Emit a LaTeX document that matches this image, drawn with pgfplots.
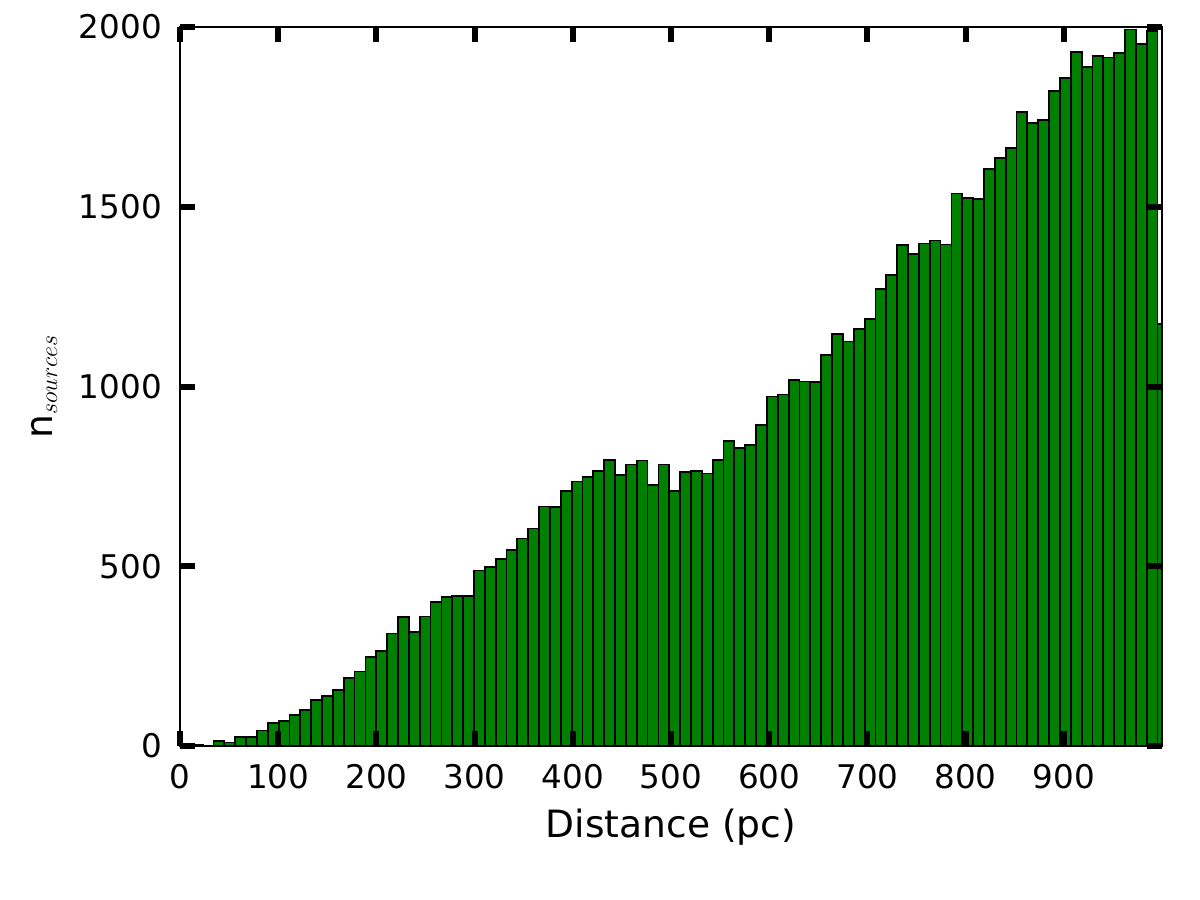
\documentclass[border=0pt]{standalone}
\usepackage{fontspec}
\setmainfont{DejaVu Sans}
\usepackage{pgfplots}
\pgfplotsset{compat=1.18}
\usepackage{pgfplotstable}
\definecolor{mplgreen}{HTML}{008000}
\newcommand\fs{\fontsize{16.3}{19.5}\selectfont}
\newcommand\fl{\fontsize{18.8}{22}\selectfont}
\pgfplotstableread{
i n
0 5
1 3
2 1
3 14
4 10
5 26
6 24
7 43
8 63
9 70
10 86
11 101
12 129
13 140
14 156
15 190
16 207
17 248
18 265
19 313
20 359
21 317
22 360
23 401
24 415
25 417
26 417
27 488
28 499
29 520
30 545
31 577
32 605
33 666
34 664
35 710
36 736
37 749
38 764
39 796
40 753
41 783
42 794
43 725
44 783
45 710
46 762
47 764
48 758
49 796
50 849
51 828
52 837
53 894
54 972
55 978
56 1017
57 1014
58 1012
59 1088
60 1147
61 1125
62 1161
63 1187
64 1271
65 1310
66 1394
67 1369
68 1398
69 1406
70 1395
71 1537
72 1525
73 1522
74 1606
75 1636
76 1663
77 1763
78 1732
79 1741
80 1823
81 1858
82 1930
83 1888
84 1919
85 1915
86 1928
87 1993
88 1953
89 1989
90 1174
91 0
}\histdata
\begin{document}
\begin{tikzpicture}
\useasboundingbox (-90pt,-77pt) rectangle (510pt,373pt);
\begin{axis}[
  at={(0,0)}, anchor=south west,
  scale only axis, width=491pt, height=359.5pt,
  xmin=0, xmax=1000, ymin=0, ymax=2000,
  xtick={0,100,...,900}, ytick={0,500,...,2000},
  scaled x ticks=false, scaled y ticks=false,
  /pgf/number format/1000 sep={},
  /pgf/number format/assume math mode=true,
  tick align=inside,
  major tick length=7.5pt,
  major tick style={line width=3pt, black},
  axis line style={line width=1pt},
  axis on top,
  ticklabel style={font=\fs},
  xticklabel style={yshift=-5.5pt},
  yticklabel style={xshift=-5.5pt},
  xlabel={Distance (pc)},
  ylabel={n$_{sources}$},
  label style={font=\fl},
  xlabel style={at={(axis description cs:0.5,-0.1266)}, anchor=base},
  ylabel style={at={(axis description cs:-0.1303,0.5)}, anchor=base},
]
\addplot[ybar interval, fill=mplgreen, draw=black, line width=0.9pt]
  table[x expr={1+11.05*\thisrow{i}}, y=n] {\histdata};
\end{axis}
\end{tikzpicture}
\end{document}
